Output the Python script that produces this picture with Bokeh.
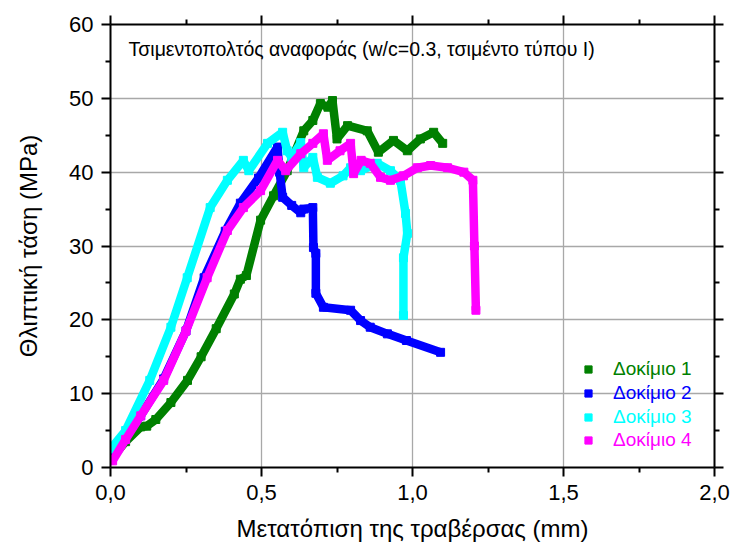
from bokeh.plotting import figure
from bokeh.models import (Range1d, LinearAxis, FixedTicker, CustomJSTickFormatter,
                          Legend, LegendItem, Label, ColumnDataSource)
from bokeh.embed import file_html
from bokeh.resources import INLINE

# ---------------- data ----------------
x1 = [0.00, 0.05, 0.10, 0.12, 0.15, 0.20, 0.255, 0.30, 0.35, 0.41, 0.43, 0.45, 0.497, 0.54, 0.585,
      0.64, 0.67, 0.695, 0.72, 0.735, 0.75, 0.785, 0.85, 0.887, 0.937, 0.983, 1.026, 1.07, 1.10]
y1 = [1.0, 3.5, 5.5, 5.6, 6.5, 8.8, 11.8, 15.0, 18.8, 23.5, 25.5, 26.0, 33.5, 36.8, 40.2,
      45.6, 47.0, 49.3, 48.8, 49.7, 44.5, 46.3, 45.6, 42.7, 44.3, 42.9, 44.5, 45.4, 43.9]

x2 = [0.00, 0.05, 0.10, 0.176, 0.25, 0.31, 0.38, 0.43, 0.49, 0.553, 0.56, 0.57, 0.60, 0.63, 0.64,
      0.67, 0.672, 0.68, 0.68, 0.705, 0.795, 0.828, 0.86, 0.917, 0.98, 1.093]
y2 = [1.5, 4.0, 7.0, 12.0, 18.5, 25.7, 32.0, 35.8, 39.2, 43.4, 40.0, 36.6, 35.5, 34.5, 35.0,
      35.2, 29.8, 29.0, 23.6, 21.7, 21.3, 19.9, 19.0, 18.1, 17.2, 15.6]

x3 = [0.00, 0.05, 0.13, 0.20, 0.254, 0.33, 0.387, 0.44, 0.458, 0.52, 0.57, 0.585, 0.60, 0.63,
      0.64, 0.67, 0.685, 0.728, 0.77, 0.795, 0.828, 0.883, 0.927, 0.96, 0.977, 0.983, 0.97, 0.97]
y3 = [2.5, 5.0, 11.8, 19.0, 25.7, 35.2, 38.9, 41.6, 40.2, 43.9, 45.4, 42.9, 42.0, 44.0,
      40.6, 42.0, 39.3, 38.5, 39.5, 40.6, 40.2, 41.2, 40.2, 38.9, 34.4, 31.7, 28.4, 20.6]

x4 = [0.007, 0.05, 0.10, 0.176, 0.25, 0.32, 0.387, 0.44, 0.497, 0.553, 0.58, 0.63, 0.67, 0.705,
      0.718, 0.76, 0.795, 0.805, 0.83, 0.86, 0.894, 0.927, 0.97, 1.016, 1.06, 1.116, 1.17, 1.20,
      1.205, 1.21]
y4 = [0.9, 3.8, 7.0, 11.8, 18.5, 25.7, 32.1, 35.2, 37.5, 41.6, 40.2, 42.5, 43.9, 45.2,
      41.6, 42.9, 43.9, 39.8, 41.6, 41.2, 39.3, 38.9, 39.5, 40.6, 40.9, 40.6, 40.0, 38.9,
      30.0, 21.3]

series_names = ["Δοκίμιο 1", "Δοκίμιο 2", "Δοκίμιο 3", "Δοκίμιο 4"]
series_colors = ["#008000", "#0000ff", "#00ffff", "#ff00ff"]
x_ticks = [0.0, 0.5, 1.0, 1.5, 2.0]
y_ticks = [0, 10, 20, 30, 40, 50, 60]

FONT = "Liberation Sans"

p = figure(width=731, height=550, output_backend="svg", toolbar_location=None,
           x_range=Range1d(0, 2.0), y_range=Range1d(0, 60),
           min_border_left=110, min_border_right=17, min_border_top=24, min_border_bottom=83,
           x_axis_label="Μετατόπιση της τραβέρσας (mm)", y_axis_label="Θλιπτική τάση (MPa)")
p.outline_line_color = None
p.background_fill_color = "white"
p.border_fill_color = "white"

xt = FixedTicker(ticks=x_ticks, minor_ticks=[0.25, 0.75, 1.25, 1.75])
yt = FixedTicker(ticks=y_ticks, minor_ticks=[5, 15, 25, 35, 45, 55])
fmt = CustomJSTickFormatter(code="return tick.toFixed(1).replace('.', ',');")
blank = CustomJSTickFormatter(code="return '';")

bottom = p.xaxis[0]
left = p.yaxis[0]
bottom.ticker = xt
bottom.formatter = fmt
left.ticker = yt

top = LinearAxis(ticker=xt, formatter=blank, major_label_standoff=0)
right = LinearAxis(ticker=yt, formatter=blank, major_label_standoff=0)
p.add_layout(top, "above")
p.add_layout(right, "right")

for ax in [bottom, left, top, right]:
    ax.axis_line_width = 2
    ax.axis_line_color = "black"
    ax.major_tick_line_width = 2
    ax.minor_tick_line_width = 2
    ax.major_tick_out = 9
    ax.major_tick_in = 0
    ax.minor_tick_out = 5
    ax.minor_tick_in = 0
    ax.major_tick_line_color = "black"
    ax.minor_tick_line_color = "black"

for ax in [bottom, left]:
    ax.major_label_text_font = FONT
    ax.major_label_text_font_size = "22px"
    ax.major_label_text_color = "black"
    ax.axis_label_text_font = FONT
    ax.axis_label_text_font_size = "24px"
    ax.axis_label_text_font_style = "normal"
    ax.axis_label_text_color = "black"
bottom.major_label_standoff = 8
bottom.axis_label_standoff = 12
left.major_label_standoff = 8
left.axis_label_standoff = 24

p.xgrid.ticker = FixedTicker(ticks=[0.5, 1.0, 1.5])
p.ygrid.ticker = FixedTicker(ticks=[10, 20, 30, 40, 50])
for g in [p.xgrid[0], p.ygrid[0]]:
    g.grid_line_color = "#a8a8a8"
    g.grid_line_width = 1.3

series = [(x1, y1), (x2, y2), (x3, y3), (x4, y4)]
markers = []
for (xs, ys), c in zip(series, series_colors):
    src = ColumnDataSource(dict(x=xs, y=ys))
    m = p.scatter("x", "y", source=src, marker="square", size=8, color=c)
    p.line("x", "y", source=src, line_color=c, line_width=8.5, line_join="bevel")
    markers.append(m)

legend_y = [87, 63, 39, 16]
for name, c, m, ly in zip(series_names, series_colors, markers, legend_y):
    lg = Legend(items=[LegendItem(label=name, renderers=[m])], location=(469, ly),
                border_line_color=None, background_fill_alpha=0, padding=0, margin=0,
                glyph_width=18, glyph_height=22, label_height=22, label_standoff=16,
                label_text_font=FONT, label_text_font_size="19px", label_text_color=c)
    p.add_layout(lg, "center")

p.add_layout(Label(x=18, y=467 - 48, x_units="screen", y_units="screen",
                   text="Τσιμεντοπολτός αναφοράς (w/c=0.3, τσιμέντο τύπου Ι)",
                   text_font=FONT, text_font_size="19.5px", text_baseline="middle",
                   text_color="black"))

open("out.html", "w").write(file_html(p, INLINE))
